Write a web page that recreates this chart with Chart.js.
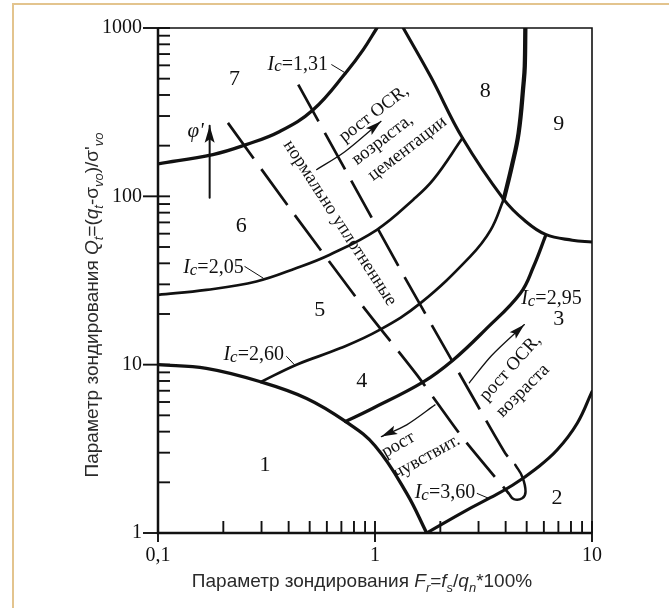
<!DOCTYPE html>
<html>
<head>
<meta charset="utf-8">
<script src="https://cdn.jsdelivr.net/npm/chart.js@4.4.1/dist/chart.umd.min.js"></script>
<style>
  html, body { margin: 0; padding: 0; background: #fff; }
  #wrap { position: relative; width: 669px; height: 608px; }
</style>
</head>
<body>
<div id="wrap"><canvas id="sbt-chart" width="669" height="608"></canvas></div>
<script>
// Boundaries of the soil behaviour type chart: Fr (%) against Qt
const zone1Fr = [0.1, 0.167, 0.298, 0.484, 0.731, 1.0, 1.40, 1.73];
const zone1Qt = [10, 9.5, 7.9, 6.3, 4.6, 3.3, 1.72, 1.0];

const ic131Fr = [0.1, 0.179, 0.255, 0.364, 0.519, 0.740, 0.883, 1.02];
const ic131Qt = [156, 177, 203, 243, 327, 550, 744, 1000];

const ic205Fr = [0.1, 0.167, 0.284, 0.435, 0.619, 1.02, 1.50, 1.86, 2.53];
const ic205Qt = [26.0, 27.8, 31.2, 37.5, 45, 63.3, 95.5, 126, 222];

const ic260Fr = [0.298, 0.435, 0.689, 1.05, 1.62, 2.75, 3.41, 3.92];
const ic260Qt = [7.9, 10.0, 12.5, 16.1, 23.2, 44, 63, 96];

const ic295Fr = [0.731, 0.948, 1.67, 2.30, 3.22, 4.68, 5.38, 6.10];
const ic295Qt = [4.6, 5.4, 7.9, 10.7, 16.1, 26.6, 38.3, 58];

const ic360Fr = [1.73, 2.6, 3.4, 4.3, 5.5, 6.9, 8.55, 10];
const ic360Qt = [1.0, 1.35, 1.62, 1.92, 2.4, 3.11, 4.49, 6.92];

// zone 8 lower edge and the 8/9 divide
const zone8Fr = [1.35, 1.81, 2.53, 3.92, 4.91, 6.11, 8.11, 10];
const zone8Qt = [1000, 511, 222, 96, 71.6, 59.4, 54.9, 53.5];
const zone9Fr = [4.93, 4.90, 4.84, 4.59, 4.27, 3.92];
const zone9Qt = [1000, 592, 472, 238, 151, 96];

// normally consolidated band (dashed) and its closing loop
const ncLeftFr = [0.210, 0.404, 0.868, 1.56, 2.51, 4.13];
const ncLeftQt = [273, 85.2, 22.7, 8.70, 3.74, 1.72];
const ncRightFr = [0.443, 0.714, 1.35, 2.30, 3.98, 4.43];
const ncRightQt = [461, 151, 34.2, 10.2, 2.98, 2.54];
const ncLoopFr = [4.13, 4.36, 4.77, 4.94, 4.77, 4.43];
const ncLoopQt = [1.72, 1.59, 1.61, 1.76, 2.16, 2.54];

// arrows (tail ... tip)
const phiArrowFr = [0.173, 0.173];
const phiArrowQt = [98, 263];
const ocrUpperFr = [0.538, 0.726, 1.066];
const ocrUpperQt = [144, 184, 279];
const ocrLowerFr = [2.72, 3.44, 4.88];
const ocrLowerQt = [7.8, 11.3, 17.3];
const sensArrowFr = [1.89, 1.40, 1.07];
const sensArrowQt = [5.77, 4.39, 3.74];

// leader lines from the Ic labels to their curves
const lead131Fr = [0.631, 0.740], lead131Qt = [606, 535];
const lead205Fr = [0.251, 0.305], lead205Qt = [38.3, 32.7];
const lead260Fr = [0.391, 0.426], lead260Qt = [11.2, 9.97];
const lead360Fr = [2.95, 3.33], lead360Qt = [1.72, 1.61];

// zone numbers
const zoneNames = ['1', '2', '3', '4', '5', '6', '7', '8', '9'];
const zoneFr = [0.311, 6.90, 7.03, 0.868, 0.557, 0.242, 0.225, 3.22, 7.03];
const zoneQt = [2.54, 1.61, 18.5, 7.94, 21.2, 66.2, 494, 420, 267];

// Ic labels
const icValues = ['1,31', '2,05', '2,60', '2,95', '3,60'];
const icLabelFr = [0.441, 0.180, 0.276, 6.50, 2.10];
const icLabelQt = [623, 38.4, 11.7, 25.1, 1.77];

// rotated notes
const noteText = ['нормально уплотненные', 'рост OCR,', 'возраста,', 'цементации',
                  'рост OCR,', 'возраста', 'рост', 'чувствит.'];
const noteFr = [0.689, 0.989, 1.083, 1.41, 4.21, 4.80, 1.28, 1.73];
const noteQt = [69.4, 310, 217, 192, 9.57, 7.0, 3.34, 2.84];
const noteAngle = [57, -37.5, -37.5, -37.5, -48, -45, -30, -29];

// axis ticks
const xTickLabels = { '0.1': '0,1', '1': '1', '10': '10' };
const yTickLabels = { '1': '1', '10': '10', '100': '100', '1000': '1000' };

const INK = '#111';
const SERIF = '"Liberation Serif", "Times New Roman", serif';
const SANS = '"Liberation Sans", Arial, sans-serif';

function logTicks(lo, hi) {
  const out = [];
  for (let d = lo; d < hi * 0.999; d *= 10) {
    for (let k = 1; k <= 9; k++) out.push(+(d * k).toPrecision(3));
  }
  out.push(hi);
  return out;
}
const xTickValues = logTicks(0.1, 10);
const yTickValues = logTicks(1, 1000);
const isMajor = v => Math.abs(Math.log10(v) - Math.round(Math.log10(v))) < 1e-6;

const toPts = (fr, qt) => fr.map((f, i) => ({ x: f, y: qt[i] }));

function curve(fr, qt, width, extra) {
  return Object.assign({
    data: toPts(fr, qt),
    showLine: true,
    pointRadius: 0,
    borderColor: INK,
    borderWidth: width,
    borderCapStyle: 'round',
    borderJoinStyle: 'round',
    tension: 0.4,
    fill: false
  }, extra || {});
}

const datasets = [
  curve(zone1Fr, zone1Qt, 3.3),
  curve(ic131Fr, ic131Qt, 3.3),
  curve(ic205Fr, ic205Qt, 2.7),
  curve(ic260Fr, ic260Qt, 2.7),
  curve(ic295Fr, ic295Qt, 3.3),
  curve(ic360Fr, ic360Qt, 3.1),
  curve(zone8Fr, zone8Qt, 3.1),
  curve(zone9Fr, zone9Qt, 4.3),
  curve(ncLeftFr, ncLeftQt, 2.7, { borderDash: [44, 13], borderCapStyle: 'butt', tension: 0.2 }),
  curve(ncRightFr, ncRightQt, 2.7, { borderDash: [42, 13], borderCapStyle: 'butt', tension: 0.2 }),
  curve(ncLoopFr, ncLoopQt, 2.5, { tension: 0.45 }),
  curve(phiArrowFr, phiArrowQt, 2.0, { arrow: true, tension: 0 }),
  curve(ocrUpperFr, ocrUpperQt, 1.3, { arrow: true, tension: 0.3 }),
  curve(ocrLowerFr, ocrLowerQt, 1.3, { arrow: true, tension: 0.3 }),
  curve(sensArrowFr, sensArrowQt, 1.3, { arrow: true, tension: 0.3 }),
  curve(lead131Fr, lead131Qt, 1, { tension: 0 }),
  curve(lead205Fr, lead205Qt, 1, { tension: 0 }),
  curve(lead260Fr, lead260Qt, 1, { tension: 0 }),
  curve(lead360Fr, lead360Qt, 1, { tension: 0 })
];

// draws a run of text pieces: n = normal, i = italic, s = italic subscript,
// c = italic small letter sitting slightly low (the "c" of Ic)
function richText(ctx, runs, cx, cy, angle, size, family, subSize) {
  const fontFor = st => st === 'n' ? `${size}px ${family}`
    : st === 'i' ? `italic ${size}px ${family}` : `italic ${subSize}px ${family}`;
  const shift = { n: 0, i: 0, s: size * 0.3, c: size * 0.08 };
  let w = 0;
  runs.forEach(([t, st]) => { ctx.font = fontFor(st); w += ctx.measureText(t).width; });
  ctx.save();
  ctx.translate(cx, cy);
  ctx.rotate(angle * Math.PI / 180);
  ctx.textBaseline = 'alphabetic';
  ctx.textAlign = 'left';
  let x = -w / 2;
  const base = size * 0.35;
  runs.forEach(([t, st]) => {
    ctx.font = fontFor(st);
    ctx.fillText(t, x, base + shift[st]);
    x += ctx.measureText(t).width;
  });
  ctx.restore();
}

const decor = {
  id: 'decor',
  beforeDraw(chart) {
    const ctx = chart.ctx;
    ctx.save();
    ctx.fillStyle = '#fff';
    ctx.fillRect(0, 0, chart.width, chart.height);
    ctx.strokeStyle = '#e3c48e';
    ctx.lineWidth = 2;
    ctx.beginPath();
    ctx.moveTo(13, chart.height);
    ctx.lineTo(13, 4);
    ctx.lineTo(chart.width, 4);
    ctx.stroke();
    ctx.restore();
  },
  afterDraw(chart) {
    const ctx = chart.ctx;
    const xs = chart.scales.x, ys = chart.scales.y;
    const { left, right, top, bottom } = chart.chartArea;
    const P = (f, q) => [xs.getPixelForValue(f), ys.getPixelForValue(q)];
    ctx.save();
    ctx.strokeStyle = INK;
    ctx.fillStyle = INK;

    // frame
    ctx.lineWidth = 1.6;
    ctx.beginPath();
    ctx.moveTo(left, top); ctx.lineTo(right, top); ctx.lineTo(right, bottom);
    ctx.stroke();
    ctx.lineWidth = 2.5;
    ctx.beginPath();
    ctx.moveTo(left, top); ctx.lineTo(left, bottom); ctx.lineTo(right, bottom);
    ctx.stroke();

    // ticks: inward for all, outward for decades
    ctx.lineWidth = 1.9;
    yTickValues.forEach(v => {
      const y = ys.getPixelForValue(v);
      ctx.beginPath();
      ctx.moveTo(isMajor(v) ? left - 15 : left, y);
      ctx.lineTo(left + 12, y);
      ctx.stroke();
    });
    xTickValues.forEach(v => {
      const x = xs.getPixelForValue(v);
      ctx.beginPath();
      ctx.moveTo(x, bottom - 12);
      ctx.lineTo(x, isMajor(v) ? bottom + 9 : bottom);
      ctx.stroke();
    });

    // arrowheads on arrow datasets
    chart.data.datasets.forEach((ds, i) => {
      if (!ds.arrow) return;
      const pts = chart.getDatasetMeta(i).data;
      const a = pts[pts.length - 2], b = pts[pts.length - 1];
      const ang = Math.atan2(b.y - a.y, b.x - a.x);
      const len = ds.borderWidth > 1.5 ? 17 : 16, half = ds.borderWidth > 1.5 ? 5 : 4.5;
      ctx.save();
      ctx.translate(b.x, b.y);
      ctx.rotate(ang);
      ctx.beginPath();
      ctx.moveTo(0, 0);
      ctx.lineTo(-len, -half);
      ctx.lineTo(-len * 0.8, 0);
      ctx.lineTo(-len, half);
      ctx.closePath();
      ctx.fill();
      ctx.restore();
    });

    // zone numbers
    ctx.textAlign = 'center';
    ctx.textBaseline = 'middle';
    ctx.font = `22px ${SERIF}`;
    zoneNames.forEach((t, i) => {
      const [x, y] = P(zoneFr[i], zoneQt[i]);
      ctx.fillText(t, x, y);
    });

    // Ic labels
    icValues.forEach((t, i) => {
      const [x, y] = P(icLabelFr[i], icLabelQt[i]);
      richText(ctx, [['I', 'i'], ['c', 'c'], ['=' + t, 'n']], x, y, 0, 20, SERIF, 17);
    });

    // notes along the band and arrows
    noteText.forEach((t, i) => {
      const [x, y] = P(noteFr[i], noteQt[i]);
      ctx.save();
      ctx.translate(x, y);
      ctx.rotate(noteAngle[i] * Math.PI / 180);
      ctx.font = `18.5px ${SERIF}`;
      ctx.fillText(t, 0, 0);
      ctx.restore();
    });

    // friction angle mark
    const [fx, fy] = P(0.149, 242);
    ctx.font = `italic 21px ${SERIF}`;
    ctx.fillText("φ'", fx, fy);

    // axis titles
    ctx.fillStyle = '#2a2a2a';
    richText(ctx, [['Параметр зондирования ', 'n'], ['F', 'i'], ['r', 's'], ['=', 'n'],
      ['f', 'i'], ['s', 's'], ['/', 'n'], ['q', 'i'], ['n', 's'], ['*100%', 'n']],
      362, 580, 0, 19, SANS, 13);
    richText(ctx, [['Параметр зондирования ', 'n'], ['Q', 'i'], ['t', 's'], ['=(', 'n'],
      ['q', 'i'], ['t', 's'], ['-σ', 'n'], ['vo', 's'], [")/σ'", 'n'], ['vo', 's']],
      91, 305, -90, 19, SANS, 13);
    ctx.restore();
  }
};

new Chart(document.getElementById('sbt-chart'), {
  type: 'scatter',
  data: { datasets },
  options: {
    responsive: false,
    animation: false,
    devicePixelRatio: 1,
    layout: { padding: { left: 0, right: 77, top: 28, bottom: 0 } },
    plugins: { legend: { display: false }, tooltip: { enabled: false } },
    scales: {
      x: {
        type: 'logarithmic',
        min: 0.1,
        max: 10,
        afterBuildTicks: s => { s.ticks = xTickValues.map(v => ({ value: v })); },
        afterFit: s => { s.height = 75; },
        grid: { display: false },
        border: { display: false },
        ticks: {
          autoSkip: false,
          maxRotation: 0,
          padding: 3,
          color: INK,
          font: { family: SERIF, size: 20 },
          callback: v => xTickLabels[String(+v.toPrecision(3))] || ''
        }
      },
      y: {
        type: 'logarithmic',
        min: 1,
        max: 1000,
        afterBuildTicks: s => { s.ticks = yTickValues.map(v => ({ value: v })); },
        afterFit: s => { s.width = 158; },
        grid: { display: false },
        border: { display: false },
        ticks: {
          autoSkip: false,
          padding: 8,
          color: INK,
          font: { family: SERIF, size: 20 },
          callback: v => yTickLabels[String(+v.toPrecision(3))] || ''
        }
      }
    }
  },
  plugins: [decor]
});
</script>
</body>
</html>
